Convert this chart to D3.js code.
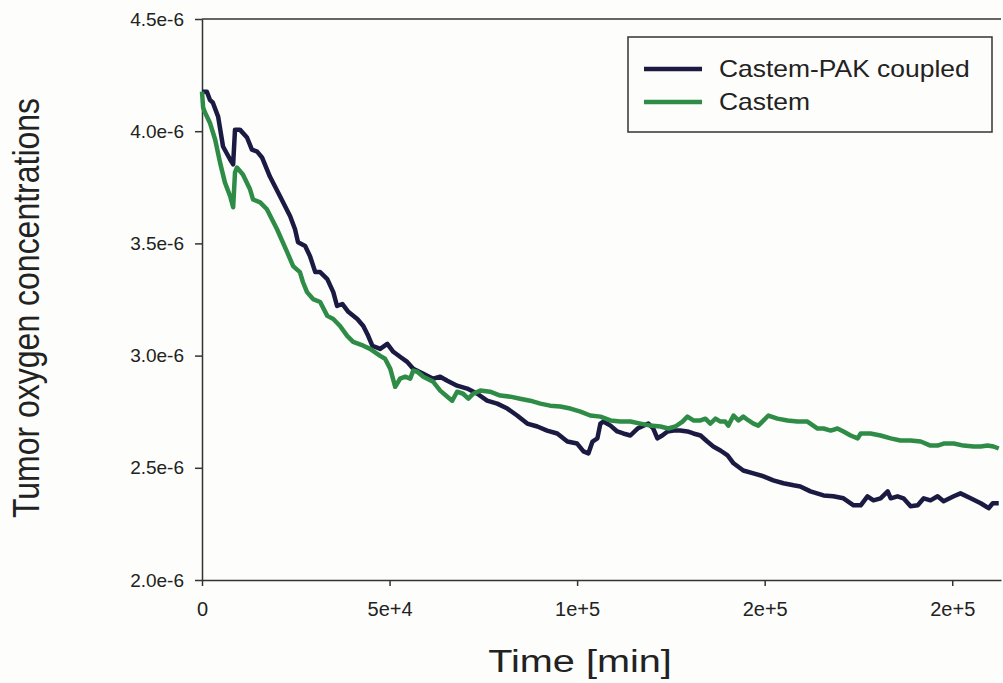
<!DOCTYPE html>
<html>
<head>
<meta charset="utf-8">
<script src="https://cdn.jsdelivr.net/npm/d3@7/dist/d3.min.js"></script>
<style>
  html, body { margin: 0; padding: 0; background: #fdfdfb; }
  svg { display: block; }
  text { font-family: "Liberation Sans", Arial, sans-serif; fill: #222; }
</style>
</head>
<body>
<svg id="chart" width="1003" height="683"></svg>
<script>
// ---- Data (time in minutes, concentration in units of 1e-6) ----
const seriesNames = ["Castem-PAK coupled", "Castem"];
const xTickValues = [0, 50000, 100000, 150000, 200000];
const xTickLabels = ["0", "5e+4", "1e+5", "2e+5", "2e+5"];
const yTickValues = [2.0, 2.5, 3.0, 3.5, 4.0, 4.5];
const yTickLabels = ["2.0e-6", "2.5e-6", "3.0e-6", "3.5e-6", "4.0e-6", "4.5e-6"];
const xLabel = "Time [min]";
const yLabel = "Tumor oxygen concentrations";

const pakCoupled = [
  [0,4.176],[1300,4.176],[2100,4.140],[2900,4.127],[4300,4.065],[5600,3.932],[7500,3.874],[8300,3.852],
  [8800,4.007],[10100,4.007],[12000,3.972],[13300,3.918],[14700,3.909],[16000,3.883],[18100,3.798],
  [20800,3.710],[23500,3.621],[24800,3.563],[25600,3.505],[27500,3.488],[28800,3.443],[30200,3.372],
  [31500,3.372],[33400,3.341],[35000,3.283],[36000,3.221],[37400,3.230],[39000,3.195],[41400,3.163],
  [43000,3.132],[44300,3.088],[45400,3.044],[47500,3.030],[49400,3.052],[51000,3.017],[52800,2.995],
  [54700,2.972],[56300,2.941],[59000,2.919],[61600,2.897],[63500,2.906],[65400,2.888],[68000,2.866],
  [70700,2.853],[73400,2.830],[76000,2.799],[78700,2.786],[81400,2.764],[84000,2.733],[86700,2.697],
  [89400,2.684],[92000,2.666],[94700,2.653],[97400,2.617],[100000,2.608],[101700,2.573],[103000,2.564],
  [104100,2.617],[105400,2.631],[106200,2.697],[107000,2.706],[108900,2.688],[110700,2.662],[112300,2.653],
  [114200,2.644],[116100,2.675],[117700,2.688],[119000,2.697],[120300,2.675],[121400,2.631],[122700,2.644],
  [124100,2.662],[125700,2.666],[127500,2.666],[129400,2.662],[131000,2.653],[132900,2.644],[134700,2.617],
  [136300,2.595],[138200,2.577],[140100,2.555],[141700,2.520],[144300,2.488],[147000,2.475],[149700,2.462],
  [152300,2.444],[155000,2.431],[157700,2.422],[159500,2.417],[162200,2.395],[165700,2.377],[168300,2.373],
  [171000,2.364],[173700,2.333],[175600,2.333],[177400,2.373],[179000,2.355],[180900,2.364],[182800,2.395],
  [183600,2.364],[185400,2.373],[187000,2.364],[188900,2.329],[190800,2.333],[192400,2.364],[194200,2.355],
  [196100,2.373],[197700,2.351],[200400,2.373],[202200,2.386],[204900,2.364],[207600,2.342],[209700,2.320],
  [210800,2.342],[212400,2.342]
];

const castem = [
  [0,4.176],[300,4.105],[800,4.083],[2100,4.038],[3500,3.963],[4800,3.861],[6100,3.772],[7500,3.710],
  [8300,3.661],[8800,3.816],[9300,3.838],[10900,3.807],[12800,3.741],[13600,3.696],[15500,3.683],
  [17300,3.652],[20000,3.563],[22700,3.461],[24300,3.399],[26100,3.372],[26900,3.328],[28000,3.283],
  [29600,3.252],[31500,3.239],[33400,3.177],[35000,3.163],[36800,3.132],[38700,3.088],[40300,3.061],
  [43000,3.044],[44800,3.030],[47500,2.999],[48800,2.986],[50200,2.941],[51500,2.861],[52800,2.897],
  [54200,2.906],[55500,2.897],[56300,2.933],[57400,2.928],[59000,2.906],[61600,2.884],[63500,2.844],
  [65400,2.817],[66700,2.799],[68000,2.839],[69600,2.830],[71000,2.808],[72300,2.830],[74200,2.844],
  [76800,2.839],[79500,2.822],[82200,2.817],[84800,2.808],[87500,2.799],[90200,2.786],[92800,2.777],
  [95500,2.773],[98200,2.764],[100900,2.750],[103500,2.733],[106200,2.728],[108900,2.711],[111500,2.706],
  [114200,2.706],[116900,2.697],[119500,2.688],[122200,2.684],[124300,2.675],[126200,2.684],[128100,2.706],
  [129400,2.728],[131000,2.711],[132900,2.711],[134200,2.719],[135500,2.697],[136900,2.719],[138200,2.706],
  [139500,2.706],[140300,2.688],[141700,2.733],[143000,2.711],[144300,2.728],[145700,2.711],[147000,2.697],
  [148300,2.688],[149700,2.711],[151000,2.733],[153400,2.719],[156100,2.711],[158700,2.706],[161400,2.706],
  [164100,2.675],[165700,2.675],[167600,2.666],[169400,2.675],[171000,2.662],[172900,2.644],[174800,2.631],
  [175600,2.653],[178200,2.653],[180900,2.644],[183600,2.631],[186200,2.622],[188900,2.622],[191600,2.617],
  [194200,2.599],[196100,2.599],[197700,2.608],[200400,2.608],[203000,2.599],[205700,2.595],[207600,2.595],
  [209400,2.599],[211000,2.595],[212400,2.586]
];

const seriesColors = ["#1b1a42", "#2e8c47"];

// ---- Layout ----
const margin = { left: 202, top: 19, right: 2, bottom: 103 };
const W = 1003, H = 683;
const svg = d3.select("#chart");

const x = d3.scaleLinear().domain([0, 213000]).range([margin.left, W - margin.right]);
const y = d3.scaleLinear().domain([2.0, 4.5]).range([H - margin.bottom, margin.top]);

// frame top line
svg.append("line")
  .attr("x1", x.range()[0]).attr("x2", x.range()[1])
  .attr("y1", y(4.5)).attr("y2", y(4.5))
  .attr("stroke", "#333").attr("stroke-width", 1.5);

// x axis
const xAxis = d3.axisBottom(x)
  .tickValues(xTickValues)
  .tickFormat((d, i) => xTickLabels[i])
  .tickSizeInner(6).tickSizeOuter(0).tickPadding(16);
const gx = svg.append("g").attr("transform", `translate(0,${y(2.0)})`).call(xAxis);
gx.select(".domain").attr("stroke", "#333").attr("stroke-width", 1.5);
gx.selectAll(".tick line").attr("stroke", "#333").attr("stroke-width", 1.5);
gx.selectAll(".tick text").style("font-size", "20px").style("fill", "#222");

// y axis
const yAxis = d3.axisLeft(y)
  .tickValues(yTickValues)
  .tickFormat((d, i) => yTickLabels[i])
  .tickSizeInner(7).tickSizeOuter(0).tickPadding(11);
const gy = svg.append("g").attr("transform", `translate(${x(0)},0)`).call(yAxis);
gy.select(".domain").attr("stroke", "#333").attr("stroke-width", 1.5);
gy.selectAll(".tick line").attr("stroke", "#333").attr("stroke-width", 1.5);
gy.selectAll(".tick text").style("font-size", "19px").style("fill", "#222");

// lines
const line = d3.line().x(d => x(d[0])).y(d => y(d[1])).curve(d3.curveLinear);
[pakCoupled, castem].forEach((s, i) => {
  svg.append("path")
    .datum(s)
    .attr("fill", "none")
    .attr("stroke", seriesColors[i])
    .attr("stroke-width", 4.5)
    .attr("stroke-linejoin", "round")
    .attr("stroke-linecap", "butt")
    .attr("d", line);
});

// axis titles
svg.append("text")
  .attr("transform", "translate(580,672) scale(1.28,1)")
  .attr("text-anchor", "middle")
  .style("font-size", "31px")
  .text(xLabel);

svg.append("text")
  .attr("transform", `translate(39,308) rotate(-90) scale(1,1.15)`)
  .attr("text-anchor", "middle")
  .style("font-size", "32px")
  .text(yLabel);

// legend
const lg = svg.append("g");
lg.append("rect")
  .attr("x", 628).attr("y", 37).attr("width", 364).attr("height", 95)
  .attr("fill", "#fdfdfb").attr("stroke", "#333").attr("stroke-width", 1.5);
const legendY = [69, 102];
seriesNames.forEach((name, i) => {
  lg.append("line")
    .attr("x1", 644).attr("x2", 702)
    .attr("y1", legendY[i]).attr("y2", legendY[i])
    .attr("stroke", seriesColors[i]).attr("stroke-width", 4.5);
  lg.append("text")
    .attr("transform", `translate(719,${legendY[i] + 8}) scale(1.15,1)`)
    .style("font-size", "23px")
    .text(name);
});
</script>
</body>
</html>
